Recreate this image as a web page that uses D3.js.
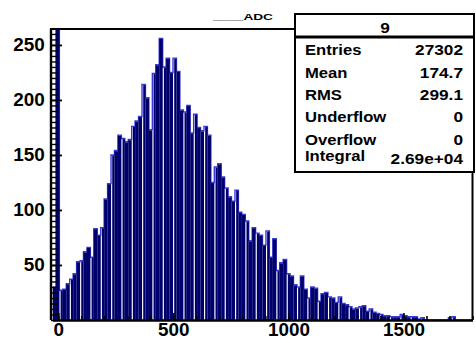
<!DOCTYPE html>
<html>
<head>
<meta charset="utf-8">
<script src="https://cdn.jsdelivr.net/npm/d3@7/dist/d3.min.js"></script>
<style>
  body { margin: 0; background: #fff; }
  svg { display: block; font-family: "Liberation Sans", Arial, sans-serif; }
</style>
</head>
<body>
<svg id="chart" width="476" height="343"></svg>
<script>
// histogram range and bin contents (122 bins from -25 to 1800)
const binLow = -25, binHigh = 1800;
const counts = [
  30, 17800, 27, 28, 33, 37, 42, 53, 54, 62,
  66, 57, 83, 77, 84, 110, 124, 150, 154, 168,
  165, 162, 164, 176, 181, 185, 214, 202, 173, 224,
  232, 256, 230, 238, 225, 238, 226, 191, 189, 195,
  170, 187, 175, 172, 176, 168, 125, 139, 142, 130,
  120, 112, 108, 118, 98, 96, 90, 72, 84, 79,
  77, 68, 81, 57, 74, 45, 52, 55, 42, 40,
  32, 30, 40, 28, 20, 30, 29, 17, 24, 25,
  21, 20, 16, 21, 15, 14, 12, 10, 11, 12,
  13, 8, 10, 7, 6, 5, 4, 4, 3, 3,
  3, 5, 4, 3, 3, 3, 1, 2, 0, 0,
  0, 0, 0, 0, 0, 2, 3, 0, 0, 0,
  0, 0
];
const xTicks = [0, 500, 1000, 1500];
const yTicks = [50, 100, 150, 200, 250];
const histTitle = "____ADC";
const statsTitle = "9";
const statLabels = ["Entries", "Mean", "RMS", "Underflow", "Overflow", "Integral"];
const statValues = ["27302", "174.7", "299.1", "0", "0", "2.69e+04"];

const svg = d3.select("#chart");
const fLeft = 52.5, fRight = 472.5, fTop = 29, fBottom = 320;

const x = d3.scaleLinear().domain([binLow, binHigh]).range([fLeft, fRight]);
const y = d3.scaleLinear().domain([0, 264.5]).range([fBottom, fTop]);
const bw = (binHigh - binLow) / counts.length;

svg.append("clipPath").attr("id", "frame")
  .append("rect")
  .attr("x", fLeft).attr("y", fTop)
  .attr("width", fRight - fLeft).attr("height", fBottom - fTop);

const plot = svg.append("g").attr("clip-path", "url(#frame)");

// outline of the histogram (drawn first, bars on top leave a blue fringe)
let pts = counts.map(function(d, i) { return [x(binLow + i * bw), y(Math.min(d, 300))]; });
pts.push([x(binHigh), y(counts[counts.length - 1])]);
plot.append("path")
  .attr("d", d3.line().curve(d3.curveStepAfter)(pts))
  .attr("fill", "none")
  .attr("stroke", "#3a3ad8")
  .attr("stroke-width", 1.4);

// bars
plot.selectAll(".bar")
  .data(counts)
  .enter().append("rect")
  .attr("class", "bar")
  .attr("x", function(d, i) { return x(binLow + i * bw) + (i % 3 == 2 ? 1.2 : 0); })
  .attr("width", function(d, i) { return x(binLow + (i + 1) * bw) - x(binLow + i * bw) - (i % 3 == 2 ? 1.2 : 0) + 0.05; })
  .attr("y", function(d) { return y(Math.min(d, 300)) + 0.6; })
  .attr("height", function(d) { return Math.max(0, fBottom - y(Math.min(d, 300)) - 0.6); })
  .attr("fill", "#00006c");

// x axis
const xMinor = d3.range(0, 1801, 100);
svg.append("g")
  .attr("transform", "translate(0," + fBottom + ")")
  .call(d3.axisBottom(x).tickValues(xMinor).tickSize(-4).tickSizeOuter(0).tickFormat(""))
  .call(function(g) { g.select(".domain").remove(); })
  .selectAll("line").attr("stroke-width", 1.6);

const xAxis = svg.append("g")
  .attr("transform", "translate(0," + fBottom + ")")
  .call(d3.axisBottom(x).tickValues(xTicks).tickSize(-7).tickSizeOuter(0).tickPadding(3).tickFormat(d3.format("d")));
xAxis.select(".domain").attr("stroke-width", 2.6);
xAxis.selectAll("line").attr("stroke-width", 1.6);
xAxis.selectAll("text")
  .attr("font-size", 18)
  .attr("font-weight", "bold")
  .attr("font-family", "Liberation Sans, Arial, sans-serif")
  .attr("fill", "#000")
  .attr("transform", "scale(1.05,1)");

// y axis
const yMinor = d3.range(0, 265, 5);
svg.append("g")
  .attr("transform", "translate(51,0)")
  .call(d3.axisLeft(y).tickValues(yMinor).tickSize(-7).tickSizeOuter(0).tickFormat(""))
  .call(function(g) { g.select(".domain").remove(); })
  .selectAll("line").attr("stroke-width", 1.4);

const yAxis = svg.append("g")
  .attr("transform", "translate(51,0)")
  .call(d3.axisLeft(y).tickValues(yTicks).tickSize(-11).tickSizeOuter(0).tickPadding(6));
yAxis.select(".domain").attr("d", "M0," + fTop + "V" + fBottom).attr("stroke-width", 2.4);
yAxis.selectAll("line").attr("stroke-width", 1.8);
yAxis.selectAll("text")
  .attr("font-size", 18)
  .attr("font-weight", "bold")
  .attr("font-family", "Liberation Sans, Arial, sans-serif")
  .attr("fill", "#000")
  .attr("transform", "scale(1.05,1)");

// frame top and right
svg.append("path")
  .attr("d", "M50," + fTop + "H" + fRight + "V" + fBottom)
  .attr("fill", "none")
  .attr("stroke", "#000")
  .attr("stroke-width", 2);

// title
svg.append("text")
  .attr("x", 213).attr("y", 19.5)
  .attr("font-size", 9)
  .attr("font-weight", "bold")
  .attr("textLength", 60)
  .attr("lengthAdjust", "spacingAndGlyphs")
  .text(histTitle);

// stats box
const bx0 = 295, bx1 = 474;
svg.append("rect")
  .attr("x", bx0).attr("y", 14).attr("width", bx1 - bx0).attr("height", 158)
  .attr("fill", "#fff").attr("stroke", "#000").attr("stroke-width", 2);
svg.append("line")
  .attr("x1", bx0).attr("x2", bx1).attr("y1", 37).attr("y2", 37)
  .attr("stroke", "#000").attr("stroke-width", 3);

svg.append("text")
  .attr("transform", "translate(385,33) scale(1.15,1)")
  .attr("text-anchor", "middle")
  .attr("font-size", 15)
  .attr("font-weight", "bold")
  .text(statsTitle);

const rowBase = [55, 78, 100, 122, 145, 161];
svg.selectAll(".slab")
  .data(statLabels)
  .enter().append("text")
  .attr("class", "slab")
  .attr("transform", function(d, i) { return "translate(305," + rowBase[i] + ") scale(1.11,1)"; })
  .attr("font-size", 15)
  .attr("font-weight", "bold")
  .text(function(d) { return d; });

svg.selectAll(".sval")
  .data(statValues)
  .enter().append("text")
  .attr("class", "sval")
  .attr("transform", function(d, i) { return "translate(463," + (rowBase[i] + (i == 5 ? 3 : 0)) + ") scale(1.15,1)"; })
  .attr("text-anchor", "end")
  .attr("font-size", 15)
  .attr("font-weight", "bold")
  .text(function(d) { return d; });
</script>
</body>
</html>
